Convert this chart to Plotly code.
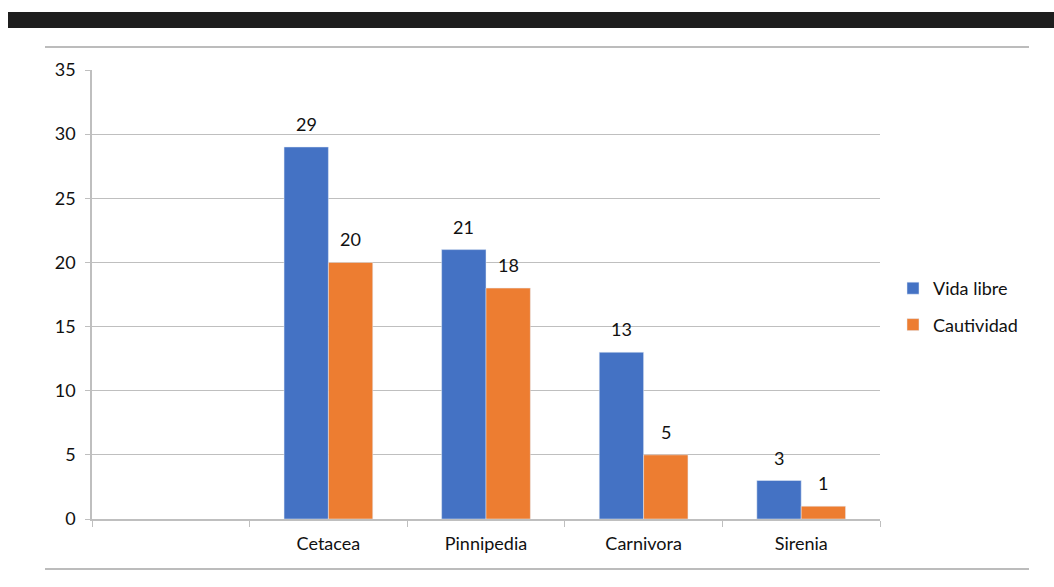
import plotly.graph_objects as go

categories = [" ", "Cetacea", "Pinnipedia", "Carnivora", "Sirenia"]
vida_libre = [None, 29, 21, 13, 3]
cautividad = [None, 20, 18, 5, 1]
y_ticks = [0, 5, 10, 15, 20, 25, 30, 35]

W, H = 1054, 587
L, R, T, B = 92, 880, 70, 519
BARGAP = 0.437

def px(x):
    return (x - L) / (R - L)

def py(y):
    return (B - y) / (B - T)

font = "Lato, 'Open Sans', sans-serif"
fig = go.Figure()
series = [("Vida libre", vida_libre, "#4472C4"), ("Cautividad", cautividad, "#ED7D31")]
for name, vals, col in series:
    fig.add_trace(go.Bar(name=name, x=categories, y=vals, marker_color=col,
                         legendgroup=name))

# data labels above bars, placed through the axes
slot = (R - L) / len(categories)
bar_w = slot * (1 - BARGAP) / len(series)
annotations = []
for i, (name, vals, col) in enumerate(series):
    shift = (i - (len(series) - 1) / 2) * bar_w
    for c, v in zip(categories, vals):
        if v is None:
            continue
        annotations.append(dict(x=c, y=v, xref="x", yref="y", text=str(v), showarrow=False,
                                xshift=shift, yshift=10, yanchor="bottom",
                                font=dict(size=18, color="#111111")))

fig.update_layout(
    width=W, height=H, margin=dict(l=L, r=W - R, t=T, b=H - B),
    plot_bgcolor="white", paper_bgcolor="white",
    barmode="group", bargap=BARGAP, bargroupgap=0,
    font=dict(family=font, size=18, color="#111111"),
    legend=dict(x=px(893), y=py(270), xanchor="left", yanchor="top",
                font=dict(size=18), traceorder="grouped", tracegroupgap=10, itemwidth=30),
    showlegend=True,
    annotations=annotations,
    shapes=[
        dict(type="rect", xref="paper", yref="paper", x0=px(8), x1=px(1054), y0=py(28), y1=py(12),
             fillcolor="#1E1E1E", line=dict(width=0), layer="above"),
        dict(type="line", xref="paper", yref="paper", x0=px(45), x1=px(1029), y0=py(47), y1=py(47),
             line=dict(color="#A6A6A6", width=1.5)),
        dict(type="line", xref="paper", yref="paper", x0=px(45), x1=px(1029), y0=py(569), y1=py(569),
             line=dict(color="#A6A6A6", width=1.5)),
    ],
)
fig.update_xaxes(type="category", showline=True, linecolor="#BFBFBF", linewidth=1.5,
                 ticks="outside", tickson="boundaries", ticklen=6, tickcolor="#BFBFBF",
                 showgrid=False, tickfont=dict(size=18), ticklabelstandoff=8)
fig.update_yaxes(range=[0, 35], tickvals=y_ticks, showline=True, linecolor="#BFBFBF", linewidth=1.5,
                 ticks="outside", ticklen=5, tickcolor="#BFBFBF",
                 showgrid=True, gridcolor="#BFBFBF", gridwidth=1.2, zeroline=False,
                 tickfont=dict(size=18), ticklabelstandoff=6)

fig.write_html("out.html")
